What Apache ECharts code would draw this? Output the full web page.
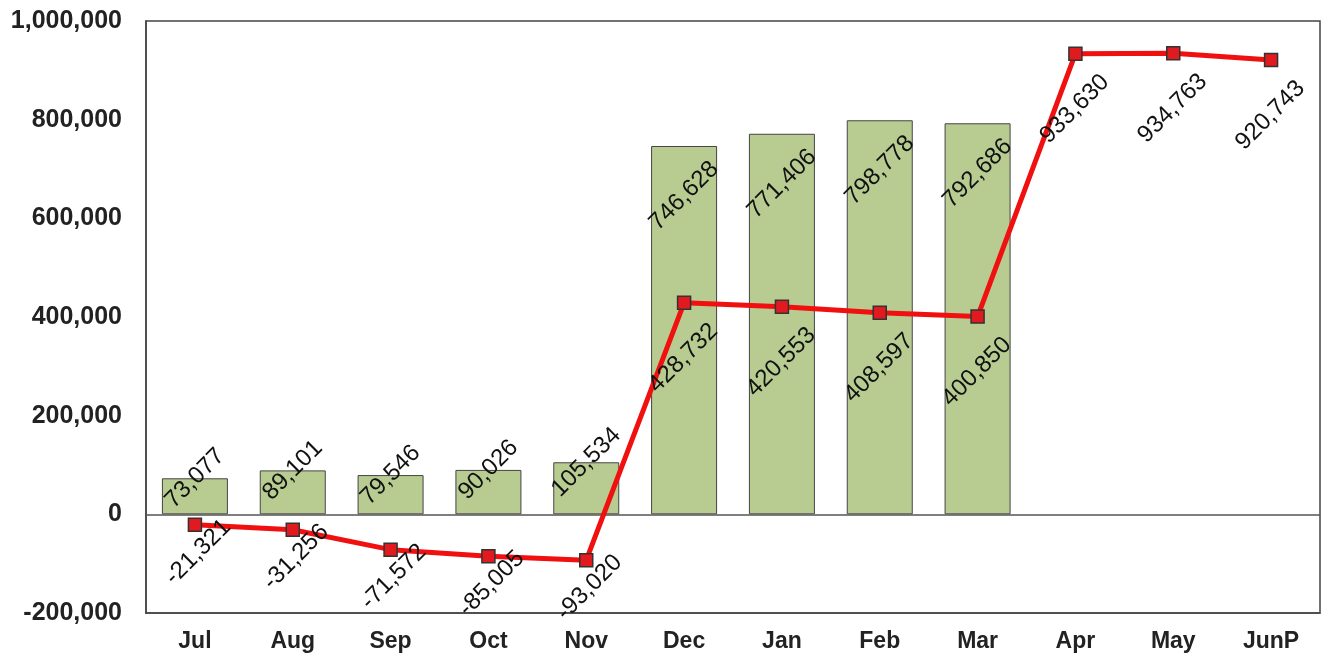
<!DOCTYPE html>
<html>
<head>
<meta charset="utf-8">
<script src="https://cdn.jsdelivr.net/npm/echarts@6/dist/echarts.min.js"></script>
<style>
html,body{margin:0;padding:0;background:#fff;}
#chart{width:1326px;height:653px;}
</style>
</head>
<body>
<div id="chart"></div>
<script>
const categories = ['Jul','Aug','Sep','Oct','Nov','Dec','Jan','Feb','Mar','Apr','May','JunP'];
const barValues = [73077, 89101, 79546, 90026, 105534, 746628, 771406, 798778, 792686, null, null, null];
const lineValues = [-21321, -31256, -71572, -85005, -93020, 428732, 420553, 408597, 400850, 933630, 934763, 920743];
const yMin = -200000, yMax = 1000000, yStep = 200000;

const FONT = "'Liberation Sans', Arial, sans-serif";
const fmt = v => Number(v).toLocaleString('en-US');
const SYM = 13;

const chart = echarts.init(document.getElementById('chart'), null, {renderer: 'canvas'});
chart.setOption({
  animation: false,
  backgroundColor: '#ffffff',
  grid: {left: 146, right: 6, top: 21, bottom: 40, show: true, borderColor: '#444', borderWidth: 1.5, backgroundColor: 'transparent'},
  xAxis: {
    type: 'category', data: categories, position: 'bottom',
    axisLine: {onZero: false, show: true, lineStyle: {color: '#444', width: 1.5}},
    axisTick: {show: false},
    axisLabel: {color: '#222', fontFamily: FONT, fontWeight: 'bold', fontSize: 23, margin: 17}
  },
  yAxis: {
    type: 'value', min: yMin, max: yMax, interval: yStep,
    axisLine: {show: true, lineStyle: {color: '#444', width: 1.5}},
    axisTick: {show: false},
    splitLine: {show: false},
    axisLabel: {color: '#222', fontFamily: FONT, fontWeight: 'bold', fontSize: 25, margin: 24, formatter: fmt}
  },
  series: [
    {
      type: 'bar', barWidth: 66,
      data: barValues.map(v => v == null ? null : {value: v, label: {position: ['50%', v > 500000 ? 50 : 0]}}),
      itemStyle: {color: '#b8cc92', borderColor: '#444', borderWidth: 1},
      label: {show: true, rotate: 45, align: 'center', verticalAlign: 'middle', color: '#111', fontFamily: FONT, fontSize: 24, formatter: p => fmt(p.value)},
      markLine: {silent: true, symbol: 'none', label: {show: false}, lineStyle: {color: '#555', width: 1.5, type: 'solid'}, data: [{yAxis: 0}]},
      z: 2
    },
    {
      type: 'line',
      data: lineValues.map(v => ({value: v, label: {position: v < 0 ? [SYM/2 + 4, SYM/2 + 28] : [SYM/2, SYM/2 + 56]}})),
      symbol: 'rect', symbolSize: SYM,
      lineStyle: {color: '#f01010', width: 5},
      itemStyle: {color: '#e11a1f', borderColor: '#333', borderWidth: 1.5},
      label: {show: true, rotate: 45, align: 'center', verticalAlign: 'middle', color: '#111', fontFamily: FONT, fontSize: 24, formatter: p => fmt(p.value)},
      z: 5
    }
  ]
});
</script>
</body>
</html>
